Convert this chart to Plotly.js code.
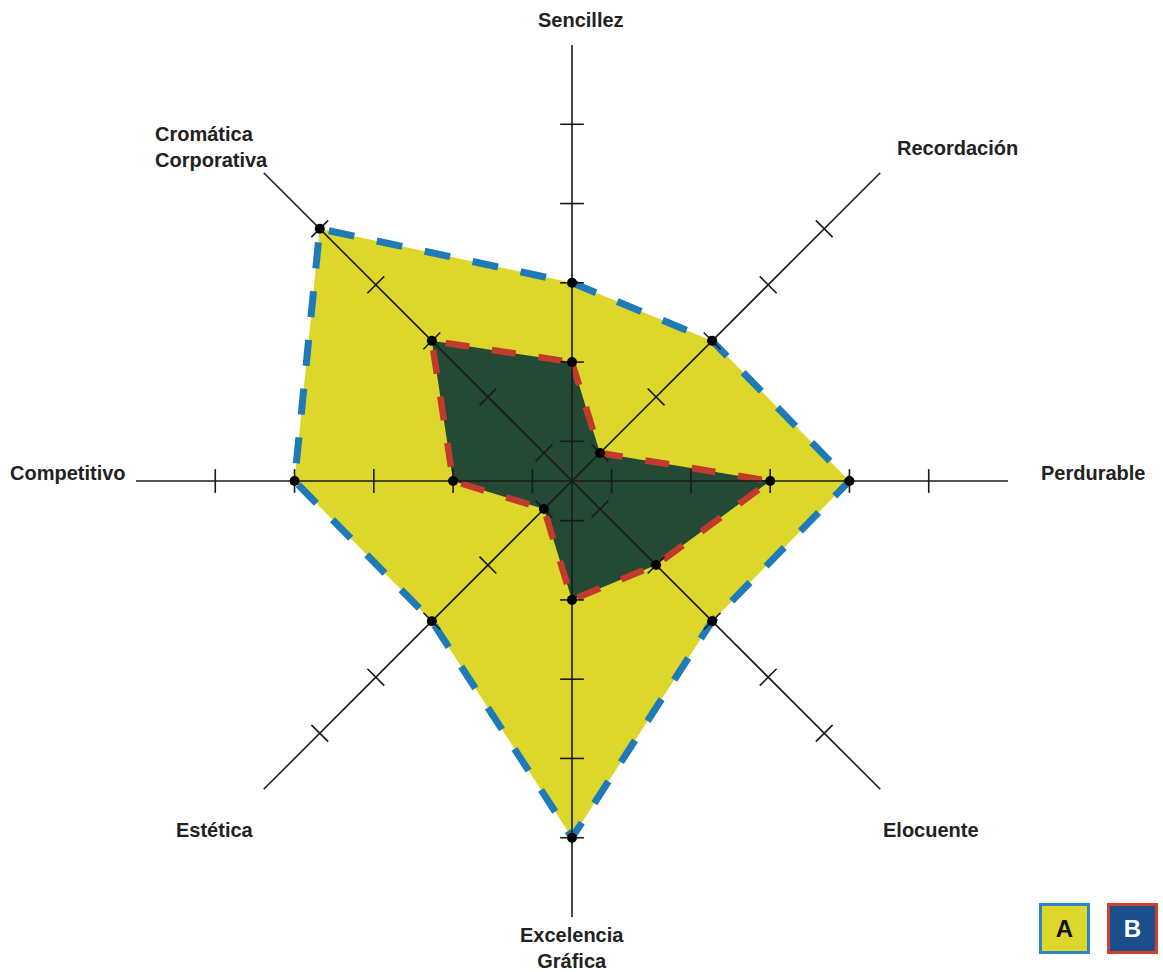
<!DOCTYPE html>
<html>
<head>
<meta charset="utf-8">
<script src="https://cdn.plot.ly/plotly-3.0.1.min.js"></script>
<style>html,body{margin:0;padding:0;background:#fff;} #chart{width:1163px;height:972px;}</style>
</head>
<body>
<div id="chart"></div>
<script>
// ---- data ----
const categories = ['Sencillez','Recordación','Perdurable','Elocuente','Excelencia Gráfica','Estética','Competitivo','Cromática Corporativa'];
const labelText = ['Sencillez','Recordación','Perdurable','Elocuente','Excelencia<br>Gráfica','Estética','Competitivo','Cromática<br>Corporativa'];
const seriesA = [5,5,7,5,9,5,7,9];
const seriesB = [3,1,5,3,3,1,3,5];
const tickValues = [1,3,5,7,9];
const axisMax = 11;

const W = 1163, H = 972;
const close = a => a.concat([a[0]]);

const traces = [];
traces.push({type:'scatterpolar', r: close(seriesA), theta: close(categories), mode:'lines',
  fill:'toself', fillcolor:'#ddd72c', line:{color:'#1f7ab8', width:7, dash:'26px,23px'}, hoverinfo:'skip', showlegend:false});
traces.push({type:'scatterpolar', r: close(seriesB), theta: close(categories), mode:'lines',
  fill:'toself', fillcolor:'#244a35', line:{color:'#c23a2c', width:6.5, dash:'24px,23px'}, hoverinfo:'skip', showlegend:false});

// spokes
const sr = [], st = [];
categories.forEach(c => { sr.push(0, axisMax, null); st.push(c, c, c); });
traces.push({type:'scatterpolar', r: sr, theta: st, mode:'lines', connectgaps:false,
  line:{color:'#1a1a1a', width:1.6}, hoverinfo:'skip', showlegend:false});

// tick marks on every spoke
const tr = [], tt = [], ta = [];
categories.forEach((c, i) => tickValues.forEach(v => { tr.push(v); tt.push(c); ta.push(45 * i); }));
traces.push({type:'scatterpolar', r: tr, theta: tt, mode:'markers',
  marker:{symbol:'line-ew', size:17, angle: ta, color:'#1a1a1a', line:{color:'#1a1a1a', width:1.6}},
  hoverinfo:'skip', showlegend:false});

// vertex dots
[seriesA, seriesB].forEach(s => traces.push({type:'scatterpolar', r: s, theta: categories, mode:'markers',
  marker:{color:'#000', size:10}, hoverinfo:'skip', showlegend:false}));

// label positions (pixels) for the category labels
const labelPos = [[581,20,'center'],[957,148,'center'],[1093,473,'center'],[931,830,'center'],
                  [572,948,'center'],[215,830,'center'],[68,473,'center'],[153,147,'left']];
const annotations = categories.map((c, i) => {
  const p = labelPos[i];
  return {text: labelText[i], xref:'paper', yref:'paper', x: p[0]/W, y: 1 - p[1]/H,
    xanchor: p[2], yanchor:'middle', align: p[2], showarrow:false,
    font:{family:'Liberation Sans, Arial, sans-serif', size:20, weight:'bold', color:'#222'}};
});
annotations.push({text:'A', xref:'paper', yref:'paper', x:1064/W, y:1-928/H, xanchor:'center', yanchor:'middle',
  showarrow:false, width:45, height:45, bgcolor:'#ddd72c', bordercolor:'#2a86c8', borderwidth:3, borderpad:0,
  font:{family:'Liberation Sans, Arial, sans-serif', size:24, weight:'bold', color:'#111'}});
annotations.push({text:'B', xref:'paper', yref:'paper', x:1132/W, y:1-928/H, xanchor:'center', yanchor:'middle',
  showarrow:false, width:45, height:45, bgcolor:'#1a4f8c', bordercolor:'#d0402f', borderwidth:3, borderpad:0,
  font:{family:'Liberation Sans, Arial, sans-serif', size:24, weight:'bold', color:'#fff'}});

const layout = {
  width: W, height: H, margin:{l:0,r:0,t:0,b:0}, paper_bgcolor:'#fff', showlegend:false,
  polar:{
    domain:{x:[136/W, 1008/W], y:[1-917/H, 1-45/H]},
    bgcolor:'rgba(0,0,0,0)',
    radialaxis:{range:[0, axisMax], visible:false, showgrid:false, showline:false},
    angularaxis:{type:'category', categoryarray: categories, direction:'clockwise', rotation:90,
      showgrid:false, showline:false, showticklabels:false, ticks:''}
  },
  annotations: annotations
};
Plotly.newPlot('chart', traces, layout, {displayModeBar:false, staticPlot:true});
</script>
</body>
</html>
